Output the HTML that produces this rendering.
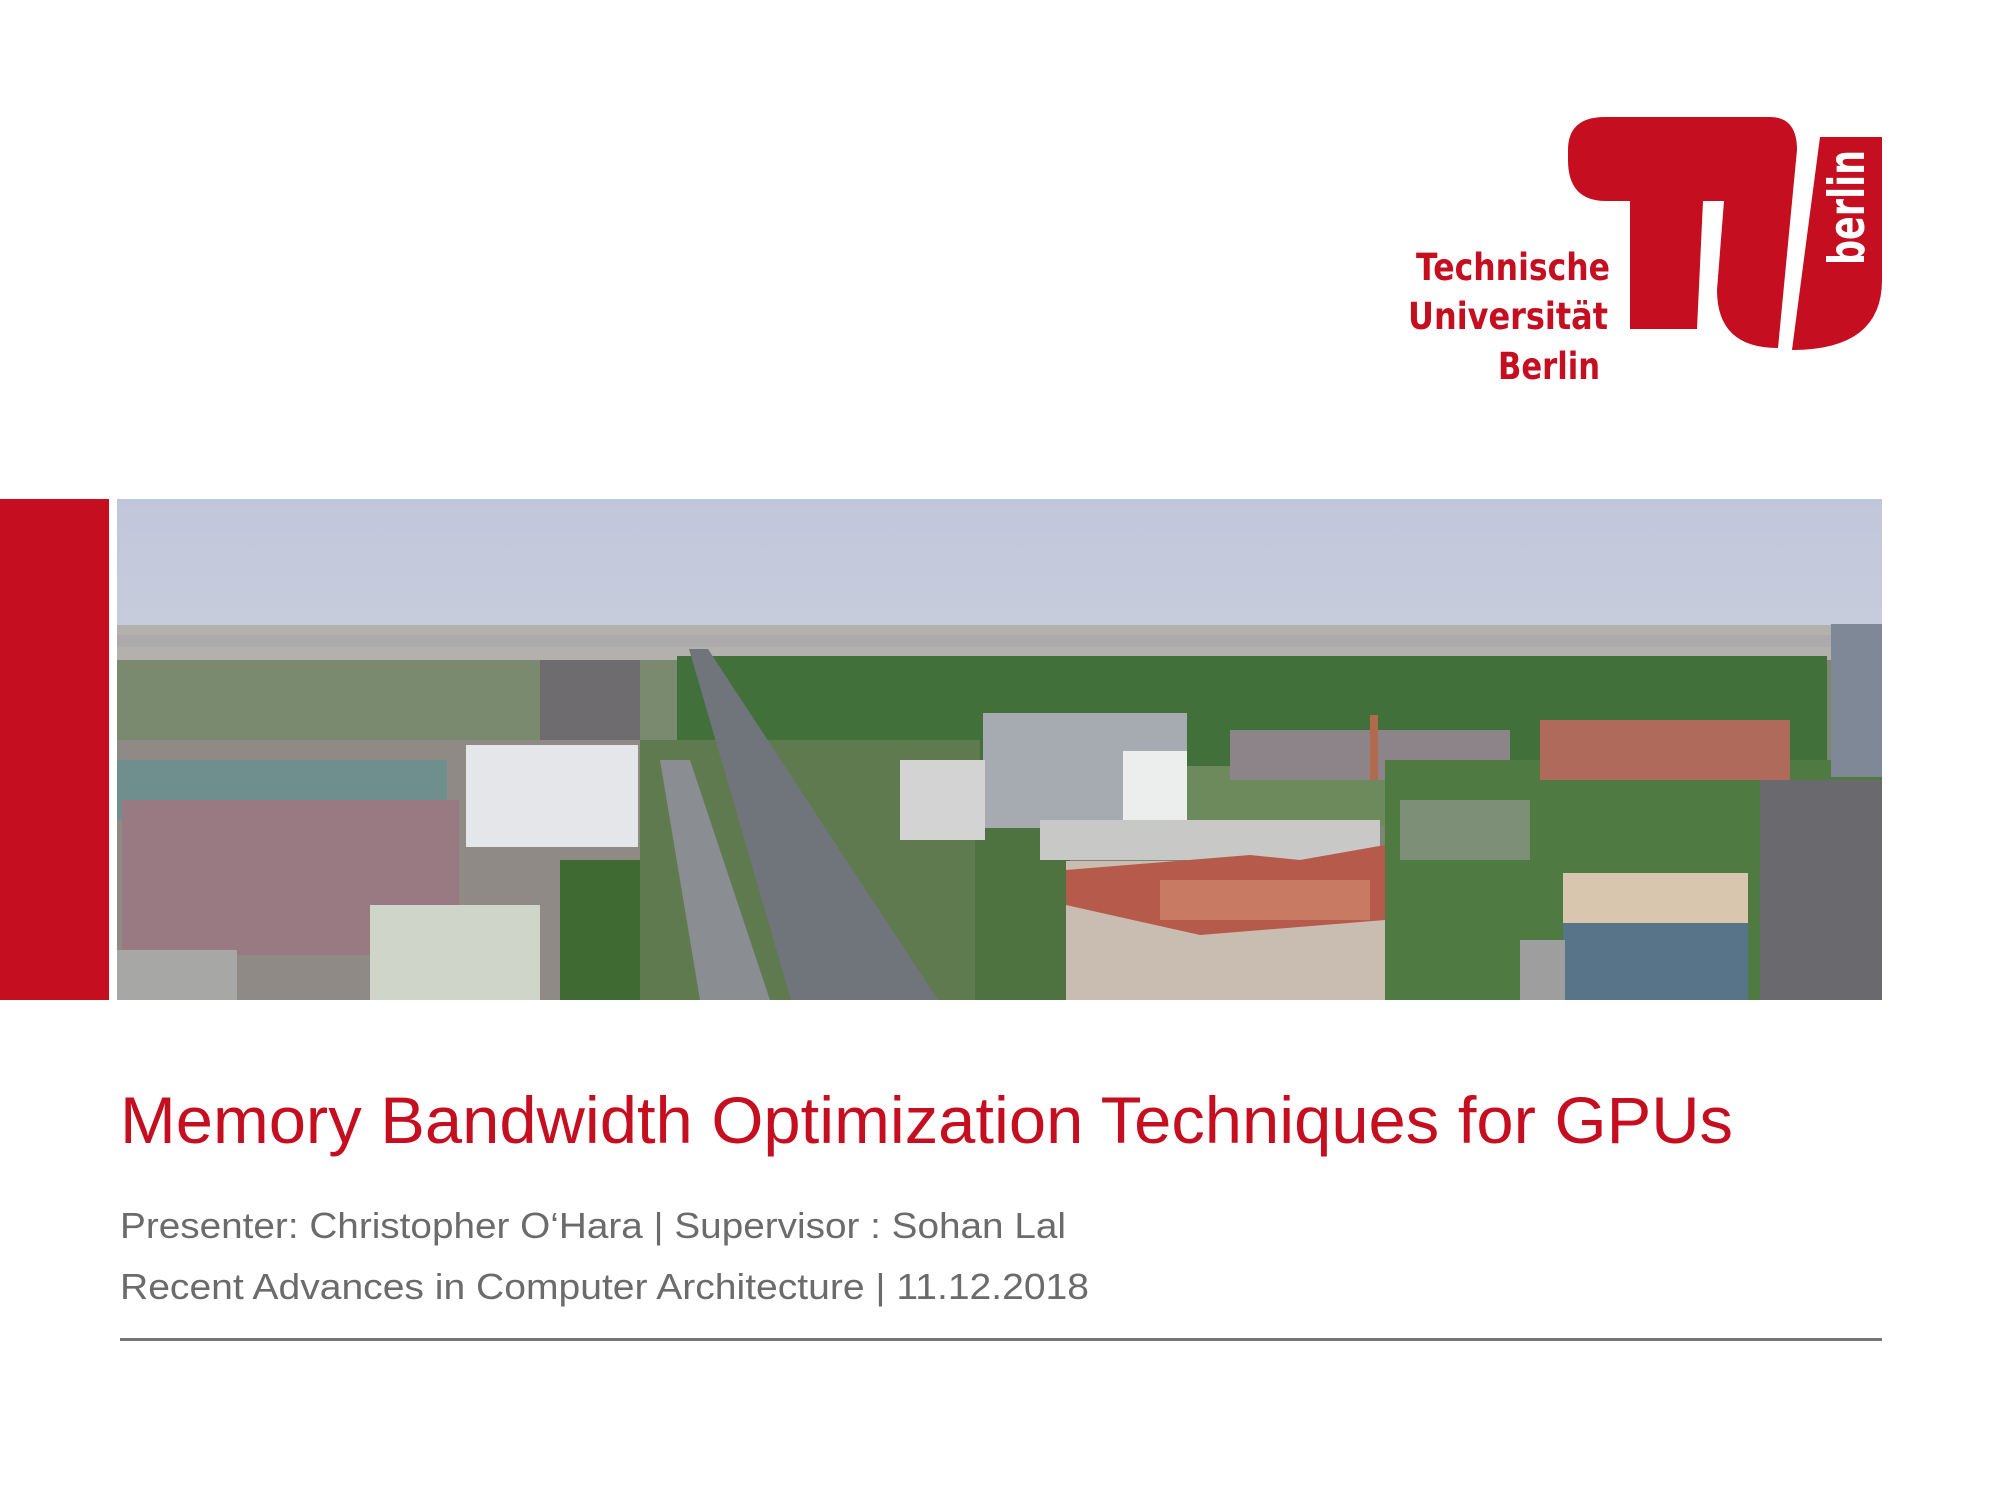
<!DOCTYPE html>
<html><head><meta charset="utf-8"><style>
html,body{margin:0;padding:0;background:#fff;}
svg{display:block;}
</style></head><body>
<svg width="2000" height="1500" viewBox="0 0 2000 1500" xmlns="http://www.w3.org/2000/svg">
<defs>
<linearGradient id="sky" x1="0" y1="0" x2="0" y2="1">
<stop offset="0" stop-color="#c1c7da"/><stop offset="0.6" stop-color="#cfd3e0"/><stop offset="1" stop-color="#dcdee5"/>
</linearGradient>
<clipPath id="ph"><rect x="117" y="499" width="1765" height="501"/></clipPath>
</defs>
<rect width="2000" height="1500" fill="#fff"/>
<rect x="0" y="499" width="109" height="501" fill="#c50e1f"/>
<g clip-path="url(#ph)">
<rect x="117" y="499" width="1765" height="501" fill="url(#sky)"/>
<rect x="117" y="625" width="1765" height="45" fill="#b3b0ae"/>
<rect x="117" y="635" width="1765" height="12" fill="#a9a7a8" opacity="0.6"/>
<rect x="117" y="660" width="1765" height="340" fill="#7d8574"/>
<rect x="677" y="656" width="1150" height="110" fill="#41703a"/>
<rect x="117" y="660" width="560" height="90" fill="#7a8a6e"/>
<rect x="117" y="740" width="570" height="260" fill="#8f8a86"/>
<rect x="117" y="760" width="330" height="60" fill="#6f8f8f"/>
<rect x="122" y="800" width="337" height="155" fill="#9a7a82"/>
<rect x="466" y="745" width="172" height="102" fill="#e4e6ea"/>
<rect x="540" y="660" width="100" height="80" fill="#6f6c70"/>
<rect x="370" y="905" width="170" height="95" fill="#cfd5c8"/>
<rect x="560" y="860" width="120" height="140" fill="#3f6b32"/>
<rect x="117" y="950" width="120" height="50" fill="#a7a7a5"/>
<rect x="640" y="740" width="340" height="260" fill="#5f7a4e"/>
<polygon points="689,649 708,649 938,1000 791,1000" fill="#70747b"/>
<polygon points="660,760 690,760 770,1000 700,1000" fill="#8a8e92"/>
<rect x="975" y="828" width="95" height="172" fill="#4e7340"/>
<rect x="983" y="713" width="204" height="115" fill="#a6aab1"/>
<rect x="1123" y="751" width="64" height="77" fill="#eceeee"/>
<rect x="900" y="760" width="85" height="80" fill="#d3d3d3"/>
<rect x="1187" y="766" width="200" height="60" fill="#6d8a5c"/>
<rect x="1040" y="820" width="340" height="40" fill="#c8c8c6"/>
<rect x="1230" y="730" width="280" height="50" fill="#8c8488"/>
<rect x="1370" y="715" width="8" height="65" fill="#b26a4e"/>
<rect x="1066" y="861" width="320" height="139" fill="#c9bdb1"/>
<polygon points="1066,870 1250,855 1300,860 1385,845 1385,920 1200,935 1066,905" fill="#b65a4c"/>
<rect x="1160" y="880" width="210" height="40" fill="#c97a62"/>
<rect x="1385" y="760" width="497" height="240" fill="#4f7a42"/>
<rect x="1540" y="720" width="250" height="60" fill="#b06a5c"/>
<rect x="1563" y="873" width="185" height="50" fill="#d8c6ae"/>
<rect x="1563" y="923" width="185" height="77" fill="#577488"/>
<rect x="1520" y="940" width="45" height="60" fill="#9e9e9e"/>
<rect x="1760" y="780" width="122" height="220" fill="#6a696d"/>
<rect x="1831" y="624" width="51" height="153" fill="#7f8897"/>
<rect x="1400" y="800" width="130" height="60" fill="#7e8f78"/>
</g>
<g fill="#c50e1f">
<path d="M1568,150 Q1568,117 1605,117 L1770,117 Q1797,117 1797,150 L1778,348 Q1717,348 1717,290 L1724,201 L1606,201 Q1568,201 1568,160 Z"/>
<polygon points="1630,201 1703,201 1697,329 1630,329"/>
<path d="M1820,137 L1882,137 L1882,280 Q1882,350 1792,350 Z"/>
</g>
<text x="0" y="0" transform="translate(1864,265) rotate(-90)" font-family="DejaVu Sans, Liberation Sans, sans-serif" font-weight="bold" font-size="50" fill="#fff" textLength="115" lengthAdjust="spacingAndGlyphs">berlin</text>
<g font-family="DejaVu Sans, Liberation Sans, sans-serif" font-weight="bold" font-size="37" fill="#c50e1f" text-anchor="end">
<text x="1610" y="280" textLength="194" lengthAdjust="spacingAndGlyphs">Technische</text>
<text x="1608" y="329" textLength="200" lengthAdjust="spacingAndGlyphs">Universität</text>
<text x="1600" y="379" textLength="102" lengthAdjust="spacingAndGlyphs">Berlin</text>
</g>
<text x="120" y="1143" font-family="Liberation Sans, sans-serif" font-size="66" fill="#c50e1f" textLength="1613" lengthAdjust="spacingAndGlyphs">Memory Bandwidth Optimization Techniques for GPUs</text>
<g font-family="Liberation Sans, sans-serif" font-size="36" fill="#6b6b6b">
<text x="120" y="1238" textLength="946" lengthAdjust="spacingAndGlyphs">Presenter: Christopher O‘Hara | Supervisor : Sohan Lal</text>
<text x="120" y="1299" textLength="969" lengthAdjust="spacingAndGlyphs">Recent Advances in Computer Architecture | 11.12.2018</text>
</g>
<rect x="120" y="1338" width="1762" height="3" fill="#767676"/>
</svg>
</body></html>
